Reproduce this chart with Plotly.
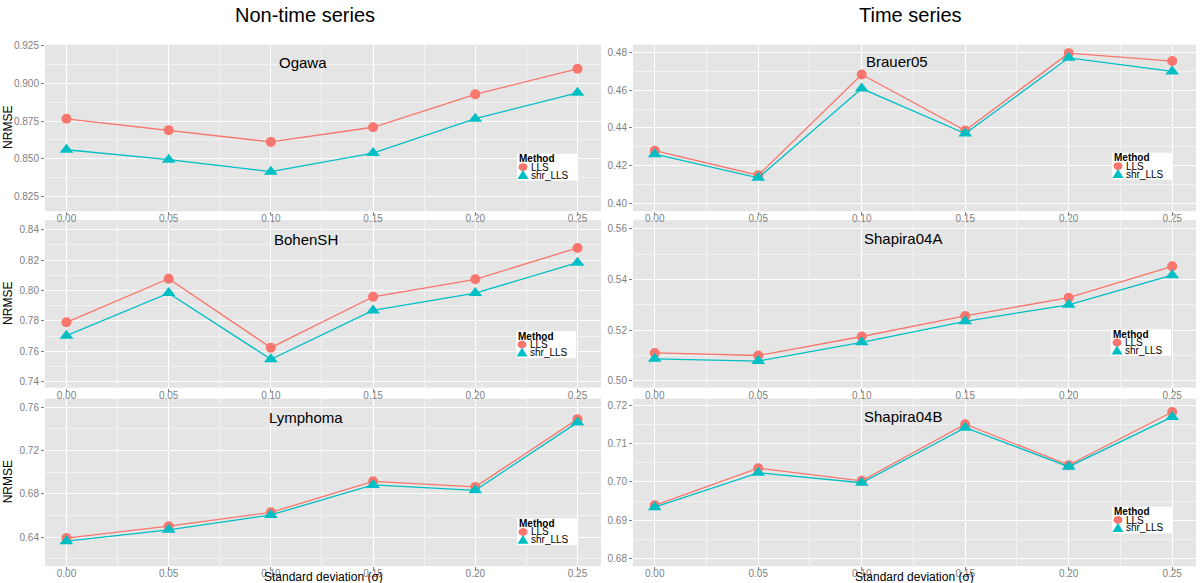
import plotly.graph_objects as go

# ---------------- data ----------------
sigma = [0.00, 0.05, 0.10, 0.15, 0.20, 0.25]
x_tick_labels = ["0.00", "0.05", "0.10", "0.15", "0.20", "0.25"]
methods = ["LLS", "shr_LLS"]
panel_names = ["Ogawa", "Brauer05", "BohenSH", "Shapira04A", "Lymphoma", "Shapira04B"]
group_titles = ["Non-time series", "Time series"]

ogawa_lls = [0.8765, 0.8690, 0.8612, 0.8709, 0.8927, 0.9096]
ogawa_shr = [0.8560, 0.8494, 0.8415, 0.8538, 0.8766, 0.8937]
brauer_lls = [0.4279, 0.4149, 0.4684, 0.4386, 0.4797, 0.4755]
brauer_shr = [0.4261, 0.4135, 0.4609, 0.4370, 0.4772, 0.4700]
bohen_lls = [0.7791, 0.8078, 0.7624, 0.7959, 0.8074, 0.8280]
bohen_shr = [0.7703, 0.7983, 0.7548, 0.7869, 0.7983, 0.8183]
shapA_lls = [0.5110, 0.5100, 0.5175, 0.5256, 0.5328, 0.5452]
shapA_shr = [0.5087, 0.5078, 0.5152, 0.5235, 0.5300, 0.5417]
lymph_lls = [0.6391, 0.6501, 0.6629, 0.6916, 0.6864, 0.7490]
lymph_shr = [0.6363, 0.6468, 0.6605, 0.6882, 0.6833, 0.7460]
shapB_lls = [0.6939, 0.7036, 0.7003, 0.7151, 0.7044, 0.7183]
shapB_shr = [0.6934, 0.7024, 0.6998, 0.7142, 0.7040, 0.7170]

# y ticks per panel
ogawa_yticks = [0.825, 0.850, 0.875, 0.900, 0.925]
brauer_yticks = [0.40, 0.42, 0.44, 0.46, 0.48]
bohen_yticks = [0.74, 0.76, 0.78, 0.80, 0.82, 0.84]
shapA_yticks = [0.50, 0.52, 0.54, 0.56]
lymph_yticks = [0.64, 0.68, 0.72, 0.76]
shapB_yticks = [0.68, 0.69, 0.70, 0.71, 0.72]

series = [
    (ogawa_lls, ogawa_shr, ogawa_yticks),
    (brauer_lls, brauer_shr, brauer_yticks),
    (bohen_lls, bohen_shr, bohen_yticks),
    (shapA_lls, shapA_shr, shapA_yticks),
    (lymph_lls, lymph_shr, lymph_yticks),
    (shapB_lls, shapB_shr, shapB_yticks),
]

# ---------------- style / layout ----------------
W, H = 1200, 583
RED = "#F8766D"
TEAL = "#00BFC4"
PANEL_BG = "#E5E5E5"
MINOR = "#F2F2F2"
TICK_COL = "#7F7F7F"
FONT = "Liberation Sans, Arial, sans-serif"

def fx(p):
    return p / W

def fy(p):
    return 1 - p / H

# panel pixel boxes: (left, right, top, bottom)
col_px = [(45, 601), (633, 1196)]
row_px = [(40, 208), (217, 386), (397, 566)]
y_ranges = [
    (0.8153, 0.9256),
    (0.3958, 0.4842),
    (0.7361, 0.8463),
    (0.4973, 0.5634),
    (0.6132, 0.7680),
    (0.6780, 0.7218),
]
y_fmt = [".3f", ".2f", ".2f", ".2f", ".2f", ".2f"]
y_minor = [0.0125, 0.01, 0.01, 0.01, 0.02, 0.005]
x_range = [-0.0105, 0.2615]
title_px = [(303, 58), (897, 57), (306, 237), (903, 236), (306, 416), (903, 415)]
legend_px = [(517, 150), (1112, 149), (516, 329), (1111, 327), (517, 518), (1112, 506)]

fig = go.Figure()
layout = dict(
    width=W, height=H,
    margin=dict(l=0, r=0, t=0, b=0),
    paper_bgcolor="white",
    plot_bgcolor=PANEL_BG,
    showlegend=False,
    font=dict(family=FONT, color="black"),
)
annotations = []
shapes = []

for i, (lls, shr, yt) in enumerate(series):
    r, c = divmod(i, 2)
    left, right = col_px[c]
    top, bottom = row_px[r]
    xa = "x" if i == 0 else f"x{i+1}"
    ya = "y" if i == 0 else f"y{i+1}"
    xkey = "xaxis" if i == 0 else f"xaxis{i+1}"
    ykey = "yaxis" if i == 0 else f"yaxis{i+1}"
    layout[xkey] = dict(
        domain=[fx(left), fx(right)], anchor=ya, range=x_range,
        tickmode="array", tickvals=sigma, ticktext=x_tick_labels,
        showgrid=True, gridcolor="white", gridwidth=1.1,
        minor=dict(tickmode="linear", tick0=0.025, dtick=0.05, showgrid=True,
                   gridcolor=MINOR, gridwidth=0.6, ticklen=0),
        ticks="outside", ticklen=3, tickcolor=TICK_COL, tickwidth=0.8,
        ticklabelstandoff=-5,
        tickfont=dict(size=10, color=TICK_COL, family=FONT),
        zeroline=False, showline=False, fixedrange=True,
    )
    layout[ykey] = dict(
        domain=[fy(bottom), fy(top)], anchor=xa, range=list(y_ranges[i]),
        tickmode="array", tickvals=yt, tickformat=y_fmt[i],
        showgrid=True, gridcolor="white", gridwidth=1.1,
        minor=dict(tickmode="linear", tick0=yt[0] + y_minor[i], dtick=2 * y_minor[i],
                   showgrid=True, gridcolor=MINOR, gridwidth=0.6, ticklen=0),
        ticks="outside", ticklen=3, tickcolor=TICK_COL, tickwidth=0.8,
        tickfont=dict(size=10, color=TICK_COL, family=FONT),
        zeroline=False, showline=False, fixedrange=True,
    )
    fig.add_trace(go.Scatter(
        x=sigma, y=lls, mode="lines+markers", name=methods[0],
        line=dict(color=RED, width=1.3),
        marker=dict(symbol="circle", size=10, color=RED),
        xaxis=xa, yaxis=ya, showlegend=False,
    ))
    fig.add_trace(go.Scatter(
        x=sigma, y=shr, mode="lines+markers", name=methods[1],
        line=dict(color=TEAL, width=1.3),
        marker=dict(symbol="triangle-up", size=12, color=TEAL),
        xaxis=xa, yaxis=ya, showlegend=False,
    ))

    # panel title
    tx, ty = title_px[i]
    annotations.append(dict(
        text=panel_names[i], x=fx(tx), y=fy(ty), xref="paper", yref="paper",
        showarrow=False, xanchor="center", yanchor="middle",
        font=dict(size=15, family=FONT, color="black"),
    ))

    # y-axis title on left panels
    if c == 0:
        annotations.append(dict(
            text="NRMSE", x=fx(8), y=fy((top + bottom) / 2), xref="paper", yref="paper",
            showarrow=False, textangle=-90, xanchor="center", yanchor="middle",
            font=dict(size=12, family=FONT, color="black"),
        ))

    # legend box (ggplot-style, drawn manually)
    lx, ly = legend_px[i]
    lw = 60
    lh = 27
    shapes.append(dict(type="rect", xref="paper", yref="paper",
                       x0=fx(lx), x1=fx(lx + lw), y0=fy(ly + lh), y1=fy(ly),
                       fillcolor="white", line=dict(width=0), layer="above"))
    annotations.append(dict(
        text="<b>Method</b>", x=fx(lx), y=fy(ly + 5), xref="paper", yref="paper",
        showarrow=False, xanchor="left", yanchor="middle",
        font=dict(size=10, family=FONT, color="black"),
    ))
    # circle glyph
    cx, cy = lx + 6, ly + 13.5
    shapes.append(dict(type="circle", xref="paper", yref="paper",
                       x0=fx(cx - 4.5), x1=fx(cx + 4.5), y0=fy(cy + 4), y1=fy(cy - 4),
                       fillcolor=RED, line=dict(width=0), layer="above"))
    # triangle glyph
    tcx, tcy = lx + 6, ly + 21.5
    path = (f"M {fx(tcx - 5.5)} {fy(tcy + 4)} L {fx(tcx + 5.5)} {fy(tcy + 4)} "
            f"L {fx(tcx)} {fy(tcy - 5)} Z")
    shapes.append(dict(type="path", xref="paper", yref="paper", path=path,
                       fillcolor=TEAL, line=dict(width=0), layer="above"))
    annotations.append(dict(
        text=methods[0], x=fx(lx + 12), y=fy(cy), xref="paper", yref="paper",
        showarrow=False, xanchor="left", yanchor="middle",
        font=dict(size=10, family=FONT, color="black"),
    ))
    annotations.append(dict(
        text=methods[1], x=fx(lx + 12), y=fy(tcy), xref="paper", yref="paper",
        showarrow=False, xanchor="left", yanchor="middle",
        font=dict(size=10, family=FONT, color="black"),
    ))

# group titles
for c, t in enumerate(group_titles):
    left, right = col_px[c]
    annotations.append(dict(
        text=t, x=fx((left + right) / 2 - (18 if c == 0 else 4)), y=fy(10),
        xref="paper", yref="paper", showarrow=False,
        xanchor="center", yanchor="middle",
        font=dict(size=20, family=FONT, color="black"),
    ))
    # x axis title under bottom panels
    annotations.append(dict(
        text="Standard deviation (σ)", x=fx((left + right) / 2), y=fy(577),
        xref="paper", yref="paper", showarrow=False,
        xanchor="center", yanchor="middle",
        font=dict(size=12, family=FONT, color="black"),
    ))

layout["annotations"] = annotations
layout["shapes"] = shapes
fig.update_layout(**layout)

fig.write_html(
    "out.html",
    config={"displayModeBar": False},
    post_script="document.body.style.margin='0px';document.body.style.overflow='hidden';",
)
